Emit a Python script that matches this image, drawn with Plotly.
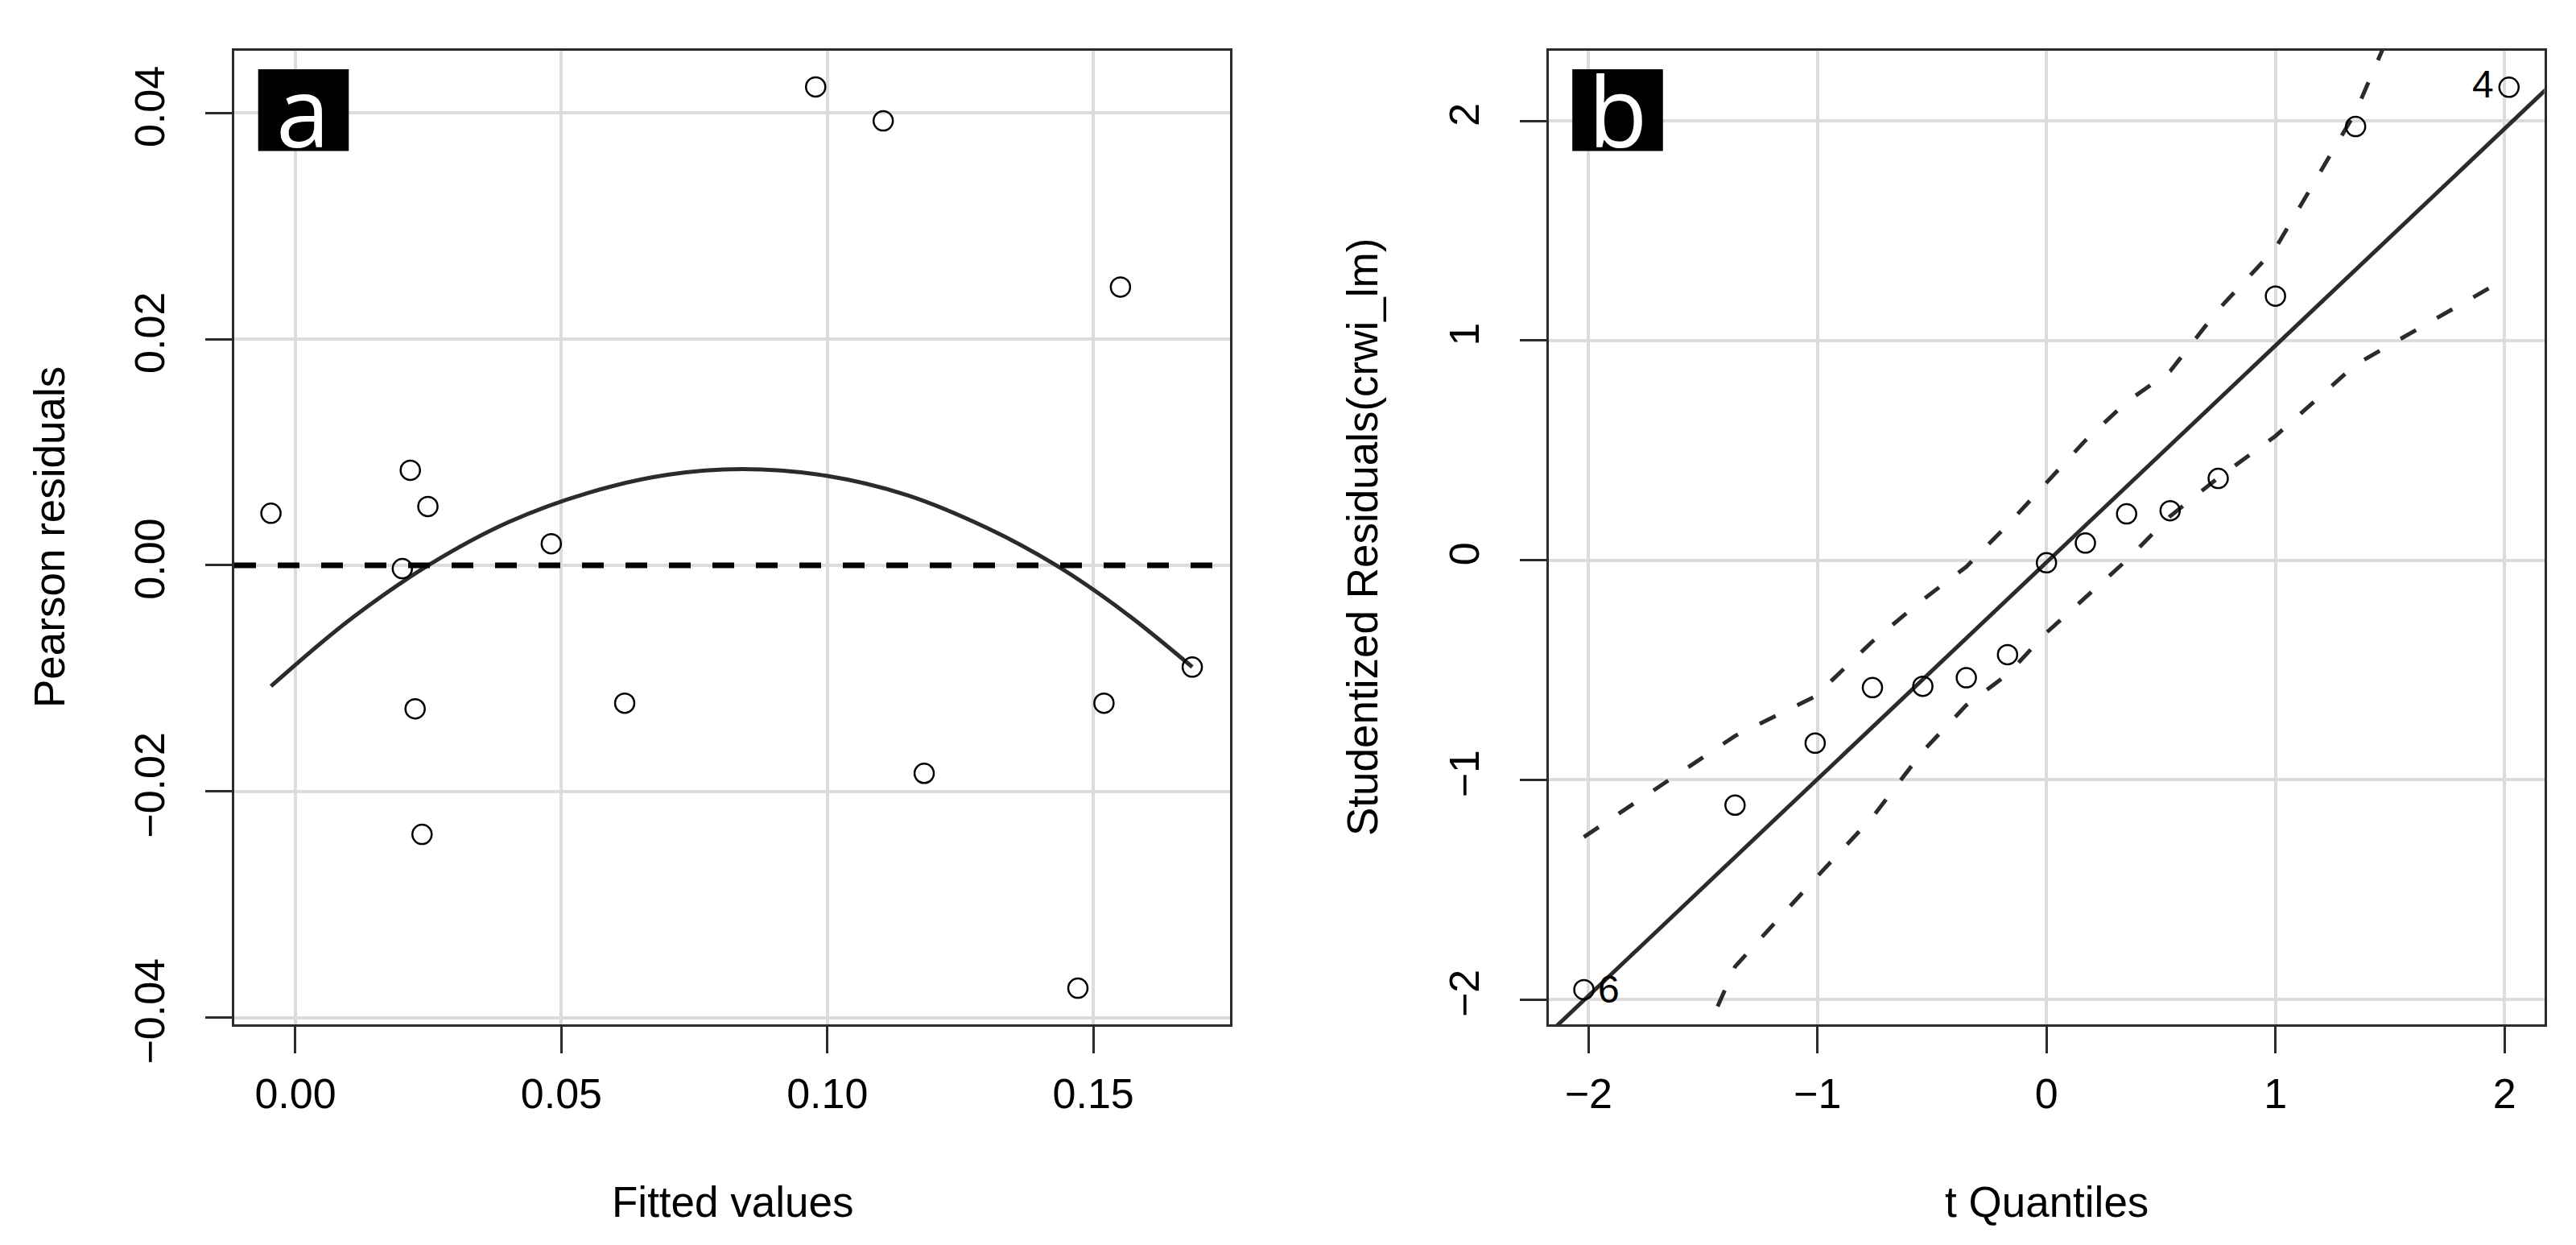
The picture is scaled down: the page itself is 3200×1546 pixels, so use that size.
import plotly.graph_objects as go

# panel a: residual plot (Pearson residuals vs fitted values)
fitted = [-0.0046, 0.0216, 0.0249, 0.0201, 0.0481, 0.0978, 0.1105, 0.1551,
          0.1686, 0.0225, 0.0619, 0.1520, 0.1182, 0.0238, 0.1471]
pearson = [0.0046, 0.0084, 0.0052, -0.0003, 0.0019, 0.0423, 0.0393, 0.0246,
           -0.0090, -0.0127, -0.0122, -0.0122, -0.0184, -0.0238, -0.0374]

# fitted quadratic curve
curve_x = [-0.0046, 0.010, 0.025, 0.040, 0.055, 0.070, 0.084, 0.100,
           0.115, 0.130, 0.143, 0.156, 0.1686]
curve_y = [-0.0107, -0.0049, 0.0000, 0.0038, 0.0064, 0.0080, 0.0085, 0.0079,
           0.0062, 0.0033, 0.0000, -0.0042, -0.0090]

# panel b: qq plot of studentized residuals
t_quant = [-2.02, -1.36, -1.01, -0.76, -0.54, -0.35, -0.17, 0.0,
           0.17, 0.35, 0.54, 0.75, 1.00, 1.35, 2.02]
stud_res = [-1.955, -1.115, -0.833, -0.580, -0.574, -0.535, -0.430, -0.012,
            0.078, 0.211, 0.225, 0.372, 1.202, 1.974, 2.153]
env_upper = [-1.26, -0.80, -0.62, -0.37, -0.18, -0.03, 0.16, 0.35,
             0.545, 0.72, 0.86, 1.14, 1.42, 2.04, 3.66]
env_lower = [-3.43, -1.85, -1.45, -1.17, -0.87, -0.66, -0.52, -0.33,
             -0.17, 0.00, 0.20, 0.375, 0.565, 0.89, 1.29]
qq_line_x = [-2.25, 2.25]
qq_line_y = [-2.23, 2.21]
point_labels = {"4": (2.02, 2.153), "6": (-2.02, -1.955)}

xa_ticks = [0.0, 0.05, 0.10, 0.15]
xa_text = ["0.00", "0.05", "0.10", "0.15"]
ya_ticks = [-0.04, -0.02, 0.0, 0.02, 0.04]
ya_text = ["\u22120.04", "\u22120.02", "0.00", "0.02", "0.04"]
b_ticks = [-2, -1, 0, 1, 2]
b_text = ["\u22122", "\u22121", "0", "1", "2"]

W, H = 3200, 1546
FONT = "Liberation Sans, Arial, Helvetica, sans-serif"
LINE = "#2b2b2b"
GRID = "#dcdcdc"

fig = go.Figure()

fig.add_trace(go.Scatter(x=curve_x, y=curve_y, mode="lines", line_shape="spline",
                         line=dict(color=LINE, width=5), xaxis="x", yaxis="y"))
fig.add_trace(go.Scatter(x=fitted, y=pearson, mode="markers",
                         marker=dict(symbol="circle-open", size=24, color="black",
                                     line=dict(width=2.5)),
                         xaxis="x", yaxis="y"))

fig.add_trace(go.Scatter(x=qq_line_x, y=qq_line_y, mode="lines",
                         line=dict(color=LINE, width=5), xaxis="x2", yaxis="y2"))
fig.add_trace(go.Scatter(x=t_quant, y=env_upper, mode="lines",
                         line=dict(color=LINE, width=5, dash="22px,30px"),
                         xaxis="x2", yaxis="y2"))
fig.add_trace(go.Scatter(x=t_quant, y=env_lower, mode="lines",
                         line=dict(color=LINE, width=5, dash="22px,30px"),
                         xaxis="x2", yaxis="y2"))
fig.add_trace(go.Scatter(x=t_quant, y=stud_res, mode="markers",
                         marker=dict(symbol="circle-open", size=24, color="black",
                                     line=dict(width=2.5)),
                         xaxis="x2", yaxis="y2"))

# dashed zero line in panel a
fig.add_shape(type="line", xref="x domain", yref="y", x0=0, x1=1, y0=0, y1=0,
              line=dict(color="black", width=7, dash="27px,27px"))

ydom = [1 - 1264 / H, 1 - 55 / H]
axis_common = dict(showgrid=True, gridcolor=GRID, gridwidth=4, zeroline=False,
                   showline=True, linecolor=LINE, linewidth=3, mirror=True,
                   ticks="outside", ticklen=33, tickwidth=3, tickcolor=LINE,
                   tickfont=dict(family=FONT, size=52, color="black"),
                   tickmode="array", automargin=False)

fig.update_layout(
    width=W, height=H, autosize=False, showlegend=False,
    margin=dict(l=0, r=0, t=0, b=0, pad=0),
    paper_bgcolor="white", plot_bgcolor="white",
    xaxis=dict(domain=[283 / W, 1520 / W], range=[-0.0115, 0.1757],
               tickvals=xa_ticks, ticktext=xa_text, ticklabelstandoff=6,
               anchor="y", **axis_common),
    yaxis=dict(domain=ydom, range=[-0.0406, 0.0455], tickvals=ya_ticks,
               ticktext=ya_text, tickangle=-90, ticklabelstandoff=30,
               anchor="x", **axis_common),
    xaxis2=dict(domain=[1915.5 / W, 3152.6 / W], range=[-2.175, 2.174],
                tickvals=b_ticks, ticktext=b_text, ticklabelstandoff=6,
                anchor="y2", **axis_common),
    yaxis2=dict(domain=ydom, range=[-2.113, 2.319], tickvals=b_ticks,
                ticktext=b_text, tickangle=-90, ticklabelstandoff=30,
                anchor="x2", **axis_common),
)

# panel letters
for xr, yr, letter in [("x domain", "y domain", "a"), ("x2 domain", "y2 domain", "b")]:
    fig.add_shape(type="rect", xref=xr, yref=yr, x0=0.024, x1=0.115, y0=0.897, y1=0.981,
                  fillcolor="black", line=dict(width=0), layer="above")
    fig.add_annotation(xref=xr, yref=yr, x=0.0695, y=0.939, text=letter, showarrow=False,
                       xanchor="center", yanchor="middle",
                       font=dict(family="Open Sans, DejaVu Sans, sans-serif", size=120,
                                 color="white"))

# labelled points in the qq plot
lx, ly = point_labels["4"]
fig.add_annotation(xref="x2", yref="y2", x=lx, y=ly, text="4", showarrow=False,
                   xanchor="right", yanchor="middle", xshift=-17, yshift=4,
                   font=dict(family=FONT, size=48, color="black"))
lx, ly = point_labels["6"]
fig.add_annotation(xref="x2", yref="y2", x=lx, y=ly, text="6", showarrow=False,
                   xanchor="left", yanchor="middle", xshift=15,
                   font=dict(family=FONT, size=48, color="black"))

# axis titles
title_font = dict(family=FONT, size=53, color="black")
fig.add_annotation(xref="paper", yref="paper", x=901.5 / W, y=1 - 1484 / H,
                   text="Fitted values", showarrow=False, xanchor="center",
                   yanchor="middle", font=title_font)
fig.add_annotation(xref="paper", yref="paper", x=2534 / W, y=1 - 1484 / H,
                   text="t Quantiles", showarrow=False, xanchor="center",
                   yanchor="middle", font=title_font)
fig.add_annotation(xref="paper", yref="paper", x=53 / W, y=1 - 659 / H,
                   text="Pearson residuals", showarrow=False, textangle=-90,
                   xanchor="center", yanchor="middle", font=title_font)
fig.add_annotation(xref="paper", yref="paper", x=1684 / W, y=1 - 659 / H,
                   text="Studentized Residuals(crwi_lm)", showarrow=False,
                   textangle=-90, xanchor="center", yanchor="middle", font=title_font)

fig.write_html("out.html")
